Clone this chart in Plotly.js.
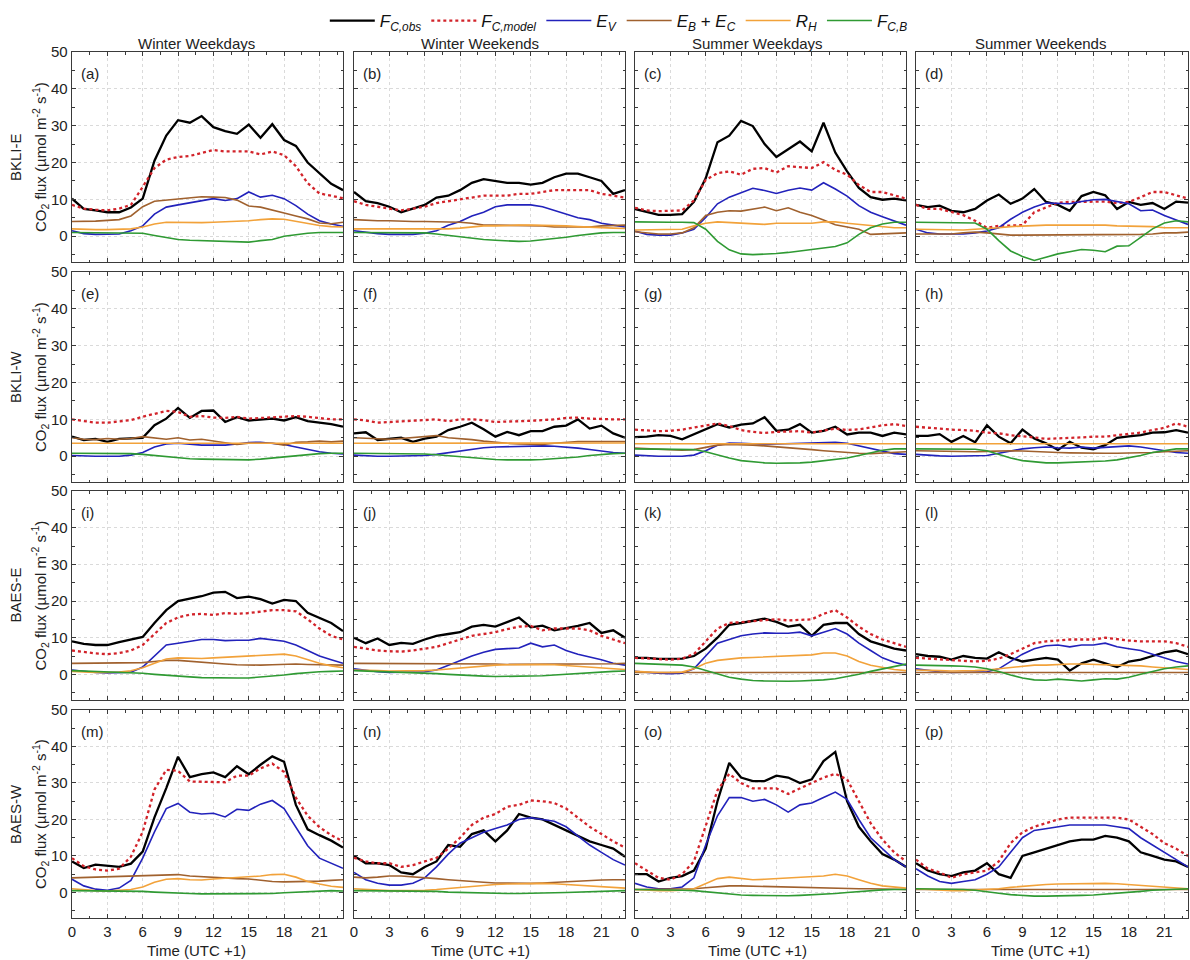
<!DOCTYPE html>
<html>
<head>
<meta charset="utf-8">
<script src="https://cdn.plot.ly/plotly-3.0.1.min.js"></script>
<style>html,body{margin:0;padding:0;background:#fff;}#chart{width:1190px;height:960px;}</style>
</head>
<body>
<div id="chart"></div>
<script>
// ---------------- DATA ----------------
const hours = [0,1,2,3,4,5,6,7,8,9,10,11,12,13,14,15,16,17,18,19,20,21,22,23];
const columnTitles = ['Winter Weekdays','Winter Weekends','Summer Weekdays','Summer Weekends'];
const siteNames = ['BKLI-E','BKLI-W','BAES-E','BAES-W'];
const panelLetters = ['a','b','c','d','e','f','g','h','i','j','k','l','m','n','o','p'];
const xTickVals = [0,3,6,9,12,15,18,21];
const yTickVals = [0,10,20,30,40,50];

// (a) BKLI-E Winter Weekdays
const obs_a = [10.2,7.4,7,6.5,6.5,7.8,10.2,20.5,27.3,31.5,30.8,32.6,29.6,28.5,27.8,30.3,26.7,30.4,26.1,24.5,20,17,14.2,12.5];
const mod_a = [8.5,7.5,7.2,7,7.5,8.5,13.4,18.5,20.8,21.5,21.8,22.7,23.4,23,23,23,22.2,23,22,19,14.4,11.6,11,10.3];
const ev_a  = [1.5,0.7,0.5,0.5,0.6,1.5,2.8,6,7.9,8.5,9.1,9.7,10.2,9.7,10.2,12,10.6,11.1,10.2,8.3,6,4.2,3.3,2.7];
const ebc_a = [4,4,4.1,4.3,4.5,5.5,8,9.5,9.8,10.3,10.6,10.7,10.6,10.5,9.8,8.2,7.9,7.2,6.3,5.5,4.7,3.6,3.4,3.8];
const rh_a  = [2,1.8,1.8,1.8,1.9,2,2.5,3.3,3.8,3.7,3.7,3.7,3.8,3.9,4,4.2,4.5,4.7,4.6,4,3.3,2.9,2.6,2.5];
const fcb_a = [1,1,1,1,1,0.9,0.8,0.2,-0.4,-0.9,-1.1,-1.2,-1.3,-1.3,-1.4,-1.6,-1.2,-0.9,0,0.5,0.8,1,1,1];
// (b) BKLI-E Winter Weekends
const obs_b = [12,9.5,9,8,6.5,7.5,8.5,10.5,11,12.5,14.5,15.5,15,14.5,14.5,14,14.5,16,17,17,16,15,11.5,12.5];
const mod_b = [9.5,8.5,8,7.5,7,7.5,8,9,9.5,10,10.5,11,11,11,11.5,11.5,12,12.5,12.5,12.5,12.5,11.5,11,10.5];
const ev_b  = [1.5,1,0.7,0.5,0.5,0.5,0.8,1.5,3,4,5.5,6.5,8,8.5,8.5,8.5,8,7,6,5,4.5,3.5,3,2.5];
const ebc_b = [4.5,4.3,4.2,4.2,4,4,4,4,4,3.8,3.5,3,3,3,3,2.8,2.8,2.5,2.5,2.5,2.5,2.8,3,3];
const rh_b  = [2,2,2,2,1.9,1.8,1.8,1.9,2,2.2,2.5,2.8,2.8,3,3,3,3,3,2.8,2.6,2.4,2.2,2.2,2.1];
const fcb_b = [1,1,1,1,1,1,0.9,0.6,0.2,-0.3,-0.6,-0.9,-1.1,-1.3,-1.4,-1.3,-1,-0.8,-0.3,0.2,0.6,0.9,1,1];
// (c) BKLI-E Summer Weekdays
const obs_c = [7.4,6.5,5.8,5.8,6,9.3,15.7,25.5,27.3,31.3,29.9,25,21.5,23.6,25.7,23,30.8,22.7,17.6,13.1,10.6,9.9,10.2,9.7];
const mod_c = [7.7,7,6.8,6.8,7,9.7,15.3,17.1,17.6,16.7,18.3,18.5,17.3,19,18.7,18.5,20.1,18,16.7,13.9,12,12,11.1,10.2];
const ev_c  = [1.4,0.5,0.3,0.3,0.9,1.9,5.1,8.8,10.6,11.8,13,12.4,11.6,12.5,13.1,12.5,14.5,12.8,10.9,8.3,6.5,5.3,4.2,3];
const ebc_c = [1.2,0.9,0.6,0.6,0.9,2.3,5.6,6.5,6.9,6.8,7.4,7.9,6.9,7.7,6.5,5.6,4.4,3.1,2.5,1.9,0.5,0.6,0.7,0.9];
const rh_c  = [1.7,1.7,1.7,1.7,1.9,2.8,3.5,3.9,3.7,3.4,3.4,3.2,3.5,3.5,3.5,3.5,3.9,3.9,3.5,3.2,3,2.6,2.3,2.3];
const fcb_c = [3.9,3.8,3.8,3.8,3.8,3.7,1.9,-1.4,-3.7,-4.8,-5,-4.9,-4.7,-4.4,-4.1,-3.6,-3.2,-2.8,-1.8,0.5,2.3,3.3,3.8,3.8];
// (d) BKLI-E Summer Weekends
const obs_d = [8.5,7.9,8.3,6.9,6.5,7.4,9.7,11.3,8.8,10.2,12.8,9.3,8.5,6.9,10.9,12,11.1,7.4,9.3,8.5,9,7.4,9.4,9.1];
const mod_d = [8.5,7.4,7.4,6.5,5.7,4.2,2.3,2.8,2.8,3,6.5,7.9,9.1,9.3,9.3,9.3,9.4,9,9.3,10.6,12,12,11.1,10.2];
const ev_d  = [1.9,0.9,0.6,0.5,0.6,0.9,1.4,2.3,4.6,6.5,7.9,9,9,8.8,9.4,9.9,10,9.3,8.8,6.9,7.1,5.6,4.4,3.2];
const ebc_d = [0.6,0.6,0.7,0.6,0.9,1.1,0.9,0.5,0.3,0.3,0.3,0.3,0.3,0.3,0.3,0.3,0.3,0.3,0.3,0.5,0.6,0.9,0.9,1.1];
const rh_d  = [1.9,1.8,1.7,1.7,1.7,1.9,2,2.3,2.6,2.8,2.8,3,3,3,3.1,3.1,3,2.8,2.8,2.8,2.6,2.3,2.3,2.3];
const fcb_d = [3.8,3.8,3.8,3.8,3.8,3.6,1.9,-1.2,-4,-5.5,-6.6,-5.6,-4.8,-4.2,-3.6,-3.8,-4.2,-2.7,-2.6,-0.3,2,3.6,4.2,3.9];
// (e) BKLI-W Winter Weekdays
const obs_e = [5.3,4.4,4.7,3.9,4.7,4.8,5,8.4,10.2,13.1,10.4,12.3,12.4,9.3,10.6,9.7,10,10.2,9.7,10.6,9.5,9.1,8.7,8];
const mod_e = [10,9.5,9.1,9.1,9.4,9.8,10.7,11.6,12.3,12,10.7,10.9,10.5,10.4,10.7,10.2,10.4,10.7,10.7,10.9,10.7,10.4,10,10];
const ev_e  = [0.2,0,0,0,0,0.3,1,2.5,3.3,3.5,3.2,3,3,3,3.3,3.7,3.8,3.6,3.2,2.5,1.8,1.2,0.8,0.6];
const ebc_e = [5,4.6,4.5,4.8,4.6,4.8,5.3,5,4.6,5,4.4,4.6,4.1,3.7,3.2,3.5,3.5,3.5,3,3.8,3.9,4.1,3.9,4.1];
const rh_e  = [3.5,3.5,3.5,3.5,3.5,3.5,3.5,3.6,3.6,3.6,3.6,3.6,3.6,3.6,3.6,3.6,3.6,3.6,3.6,3.6,3.5,3.5,3.5,3.5];
const fcb_e = [0.8,0.8,0.8,0.8,0.8,0.7,0.5,0.2,-0.2,-0.5,-0.7,-0.8,-0.9,-1,-1,-1,-0.8,-0.5,-0.2,0.2,0.5,0.7,0.8,0.8];
// (f) BKLI-W Winter Weekends
const obs_f = [6.2,6.5,4.4,4.6,5,3.9,4.8,5.3,7.1,8,9.1,7.3,5.3,6.6,5.7,6.8,6.8,8,8.3,10,7.5,8.3,6.2,5];
const mod_f = [10,9.7,9.1,9.3,9.5,9.8,9.8,10,9.5,10,10,9.8,9.3,9.3,9.5,9.6,9.8,10,10.4,10.5,10.2,10,10,10];
const ev_f  = [0.3,0.1,0,0,0,0,0.2,0.5,1,1.5,2,2.3,2.5,2.6,2.7,2.8,2.8,2.7,2.5,2.2,1.8,1.3,1,0.8];
const ebc_f = [5,4.8,4.6,4.6,4.8,5,5.3,5.6,5,4.8,4.5,4.1,3.7,3.5,3.3,3.2,3.2,3.5,3.8,4,4,4,4,4];
const rh_f  = [3.5,3.5,3.5,3.5,3.5,3.5,3.5,3.5,3.5,3.5,3.5,3.5,3.5,3.5,3.5,3.5,3.5,3.5,3.5,3.5,3.5,3.6,3.6,3.6];
const fcb_f = [0.8,0.8,0.8,0.8,0.8,0.7,0.6,0.4,0.1,-0.2,-0.5,-0.7,-0.9,-1,-1.1,-1,-0.9,-0.7,-0.5,-0.2,0.2,0.5,0.7,0.8];
// (g) BKLI-W Summer Weekdays
const obs_g = [5.2,5.3,5.7,5.5,4.6,5.9,7.2,8.7,7.8,8.6,8.9,10.6,6.9,7.2,8.7,6.4,6.9,8,5.9,6.4,6.4,5.5,6.4,5.9];
const mod_g = [7.2,6.9,6.8,6.9,7.2,7.8,8.4,8.9,8.2,7.1,6.6,6.3,6.6,6.8,6.8,6.4,6.9,7.5,7.1,7.3,7.8,8.4,8.7,8.2];
const ev_g  = [0.3,0.1,0,0,0,0.3,1.5,3,3.6,3.5,3.3,3.2,3.3,3.4,3.5,3.4,3.5,3.8,3.5,2.8,2,1.2,0.7,0.5];
const ebc_g = [2.2,2,1.8,1.7,1.6,1.8,2.5,3,3.2,3.2,3,2.8,2.5,2.2,2,1.8,1.5,1.2,1,0.8,0.7,0.8,1,1.2];
const rh_g  = [3.4,3.4,3.4,3.4,3.4,3.5,3.6,3.6,3.6,3.6,3.6,3.6,3.6,3.6,3.6,3.6,3.6,3.6,3.6,3.5,3.5,3.4,3.4,3.4];
const fcb_g = [2,2,2,2,2,1.8,1.2,0.3,-0.5,-1.2,-1.6,-1.8,-1.9,-1.9,-1.8,-1.6,-1.3,-1,-0.5,0.2,1,1.6,2,2];
// (h) BKLI-W Summer Weekends
const obs_h = [5.5,5.5,6,3.9,5.5,3.8,8.4,5.3,3.5,7.2,4.8,3.5,1.7,3.9,2.3,1.9,3,5,5.4,5.7,6.4,6.5,7.1,6.4];
const mod_h = [8,7.7,7.5,7.2,7.1,6.9,6.4,6.2,5.7,5.5,5.1,4.7,4.8,5,5.1,5.3,5.3,5.7,6,6.4,7.1,7.7,8.9,8];
const ev_h  = [0.5,0.2,0.1,0,0,0,0.2,0.8,1.5,2,2.3,2.5,2.3,2.2,2.5,2.2,2.4,2.6,2.8,2.5,2,1.5,1,0.8];
const ebc_h = [1.5,1.4,1.3,1.3,1.2,1.2,1.3,1.5,1.5,1.4,1.2,1,1,0.9,0.8,0.8,0.8,0.8,0.8,0.9,1,1.2,1.3,1.5];
const rh_h  = [3.4,3.4,3.4,3.4,3.4,3.4,3.5,3.5,3.5,3.5,3.5,3.5,3.5,3.5,3.5,3.5,3.5,3.5,3.5,3.5,3.5,3.4,3.4,3.4];
const fcb_h = [2,2,2,2,2,1.9,1.5,0.5,-0.5,-1.2,-1.6,-1.8,-1.8,-1.7,-1.6,-1.5,-1.3,-1,-0.5,0.2,1,1.6,2,2];
// (i) BAES-E Winter Weekdays
const obs_i = [9,8.3,8,8,8.8,9.5,10.2,14,17.5,20,20.7,21.3,22.3,22.5,20.8,21.2,20.5,19.3,20.3,20,16.8,15.5,14,11.8];
const mod_i = [6.5,6,5.7,5.5,5.8,6.5,8,11,14,15.5,16.3,16.5,16.2,16.7,16.5,16.7,17,17.5,17.5,17.2,15,12.5,10.5,9.5];
const ev_i  = [1.2,0.8,0.5,0.4,0.4,0.6,2,5,8,8.5,9,9.5,9.5,9.2,9.3,9.3,9.8,9.5,9,8,6.5,5,4,3];
const ebc_i = [3,3,3,3,3,3,3.2,3.5,3.8,3.8,3.5,3.2,3,2.8,2.6,2.5,2.5,2.6,2.8,2.8,2.7,2.6,2.5,2.5];
const rh_i  = [0.8,0.6,0.5,0.5,0.6,1,1.8,3,4.2,4.5,4.3,4.3,4.5,4.7,4.8,5,5.3,5.5,5.5,5,4,3,2.3,1.8];
const fcb_i = [1,0.9,0.8,0.7,0.6,0.5,0.3,0,-0.3,-0.5,-0.7,-0.9,-1,-1,-1,-1,-0.8,-0.5,-0.2,0.2,0.5,0.7,0.8,0.9];
// (j) BAES-E Winter Weekends
const obs_j = [10,8.5,9.8,8,8.6,8.3,9.5,10.5,11,11.5,13,13.5,13,14.3,15.5,12.8,13.3,12,12.5,13.2,14,11.3,12,10];
const mod_j = [7.5,7,6.5,6.3,6.2,6.5,7,7.5,8.5,9.5,10.5,11,11.5,12.3,13,13.2,12,12.5,12.5,12.5,12,10.5,9.5,8.5];
const ev_j  = [1.5,1,0.7,0.5,0.5,0.5,0.7,1.2,2.5,3.8,5,6,6.8,7,7.2,8.5,7.5,8,6.5,5.5,4.8,4,3,2.5];
const ebc_j = [3,3,3,3,3,3,3,3,3,3,2.9,2.8,2.8,2.7,2.7,2.7,2.7,2.7,2.8,2.8,2.8,2.8,2.9,3];
const rh_j  = [1.2,1,1,0.9,0.9,0.9,1,1.2,1.5,1.8,2,2.3,2.5,2.6,2.7,2.8,2.7,2.6,2.4,2.2,2,1.8,1.5,1.3];
const fcb_j = [1,0.9,0.8,0.7,0.6,0.5,0.4,0.2,0,-0.2,-0.4,-0.5,-0.6,-0.6,-0.6,-0.5,-0.4,-0.2,0,0.3,0.5,0.7,0.8,0.9];
// (k) BAES-E Summer Weekdays
const obs_k = [4.5,4.5,4.2,4.3,4.3,5,7,10,13.5,14,14.5,15.2,14.3,13,13.5,10.5,13.5,14,14,11,9,8,7,6.5];
const mod_k = [4.5,4.3,4.2,4,4.3,5.5,9,12.5,14,14.2,14.5,14.8,15,14.7,14.8,15,16.5,17.5,15.5,13,11,9.5,8.5,7.5];
const ev_k  = [0.8,0.5,0.3,0.2,0.3,1.5,5,8.5,9.5,10.5,11,11.3,11.2,11.2,11.5,10.5,11.5,12.5,11,8.5,6.5,4.5,3.3,2.5];
const ebc_k = [0.5,0.5,0.5,0.5,0.5,0.5,0.5,0.5,0.5,0.5,0.5,0.5,0.5,0.5,0.5,0.5,0.5,0.5,0.5,0.5,0.5,0.5,0.5,0.5];
const rh_k  = [0.8,0.6,0.5,0.5,0.6,1.5,3,3.8,4.2,4.5,4.6,4.7,4.8,4.9,5,5.3,5.8,5.8,5,3.5,2.5,1.8,1.3,1];
const fcb_k = [3,2.9,2.8,2.7,2.5,2,1,0,-0.8,-1.3,-1.7,-1.8,-1.9,-1.9,-1.8,-1.7,-1.5,-1.2,-0.7,0,0.8,1.5,2.2,2.8];
// (l) BAES-E Summer Weekends
const obs_l = [5.5,5,4.8,4,5,4.5,4.3,6,4.5,3.5,4,4.5,4,1,3,4,3,2,3.5,4,5,6,6.5,5.5];
const mod_l = [4.5,4.3,4,3.8,3.5,3.5,3.7,4.3,5.5,7,8.5,9,9.3,9.5,9.5,9.5,10,9.5,9.2,9,9,9,8.5,7.5];
const ev_l  = [1.5,1,0.7,0.5,0.5,0.5,0.7,1.5,3.5,5.5,7,7.8,8,7.5,8,8,8.5,7.5,7,6.5,5.5,4.5,3.5,2.8];
const ebc_l = [0.5,0.5,0.5,0.5,0.5,0.5,0.5,0.5,0.5,0.5,0.5,0.5,0.5,0.5,0.5,0.5,0.5,0.5,0.5,0.5,0.5,0.5,0.5,0.5];
const rh_l  = [1.2,1,1,0.9,0.9,1,1.2,1.5,2,2.3,2.5,2.5,2.7,2.8,2.8,2.7,2.8,2.7,2.5,2.3,2,1.8,1.5,1.3];
const fcb_l = [2.5,2.5,2.4,2.3,2.2,2,1.5,0.8,-0.2,-1,-1.5,-1.6,-1.3,-1.5,-1.8,-1.5,-1.2,-1.3,-0.8,0,0.8,1.5,2,2.3];
// (m) BAES-W Winter Weekdays
const obs_m = [8.5,6.7,7.6,7.4,7,7.9,11.2,20.6,28.6,37.2,31.6,32.4,32.9,31.6,34.6,32.4,35,37.3,35.8,24,17.3,15.7,14.2,12.3];
const mod_m = [9.4,7.2,6.3,6,6.5,9.8,16.6,28.2,33.6,33.3,30.4,30.4,30.4,30.2,32,32,34,35.3,33,26,21,17.9,15.7,14];
const ev_m  = [3.6,1.8,0.9,0.6,1.2,3.3,9.4,16.6,23,24.4,22,21.5,21.7,20.7,22.8,22.5,24.2,25.2,23,17.9,12.8,9.4,8.1,6.6];
const ebc_m = [4,4.1,4.2,4.2,4.2,4.4,4.6,4.7,4.8,4.9,4.5,4.3,4,3.8,3.8,3.7,3.3,3,2.9,2.9,3,3.1,3.3,3.5];
const rh_m  = [1,0.7,0.5,0.4,0.5,0.8,1.5,2.8,3.6,3.8,3.5,3.4,3.7,3.9,4,4.2,4.5,4.9,5,4.2,3,2.3,1.7,1.4];
const fcb_m = [0.5,0.5,0.5,0.4,0.4,0.4,0.3,0.1,-0.1,-0.2,-0.3,-0.4,-0.4,-0.4,-0.4,-0.5,-0.4,-0.3,-0.1,0.1,0.2,0.4,0.5,0.4];
// (n) BAES-W Winter Weekends
const obs_n = [10,8,8,7.5,5.5,5,7,8.5,13,12.5,16,17,14,17,21.5,20.5,20,18.5,17,15.5,14,13,12,9.8];
const mod_n = [9.5,8.5,8,8,7,7.5,8.5,9.5,12,15,18.5,20.5,21.5,23.5,24,25.2,25,24.5,23,20.5,18,16,14,12.3];
const ev_n  = [5.5,3.5,2.5,2,2,2.5,4,7,10.5,13.5,15,16.5,17.5,18.5,20,20.5,20,19.5,18,15.5,13,11,9,7.5];
const ebc_n = [4.2,4,4.2,4.5,4.5,4.3,4,3.8,3.5,3.2,3,2.8,2.6,2.5,2.5,2.5,2.6,2.8,3,3.2,3.2,3.4,3.5,3.5];
const rh_n  = [1,0.8,0.6,0.5,0.5,0.5,0.6,0.8,1.1,1.5,1.8,2,2.2,2.3,2.4,2.5,2.5,2.4,2.2,2,1.8,1.6,1.4,1.2];
const fcb_n = [0.5,0.5,0.5,0.5,0.5,0.5,0.4,0.3,0.1,0,-0.1,-0.2,-0.3,-0.3,-0.3,-0.3,-0.2,-0.1,0,0.1,0.2,0.3,0.4,0.5];
// (o) BAES-W Summer Weekdays
const obs_o = [5,5,3,4,4.5,6,12,25,35.5,31.5,30.5,30.5,32,31.5,30,31,36,38.5,25,18,14,10.5,9,7];
const mod_o = [8,6,4,3.5,5,8.5,18,28,32.5,30,28.5,28.5,28.5,27,28.5,30,31.5,32.5,31,25,19,14.5,11,8.5];
const ev_o  = [2.5,1.5,1,1,1.5,4,13,21,26,26,25,25.5,24,22,24,24.5,26,27.5,25.5,20,15,12,9,7];
const ebc_o = [0.8,0.8,0.8,0.8,0.9,1,1.3,1.6,1.8,1.8,1.7,1.6,1.5,1.5,1.4,1.3,1.2,1.2,1.1,1,1,0.9,0.9,0.8];
const rh_o  = [0.8,0.6,0.5,0.5,0.6,1,2.5,3.8,4.2,3.8,3.5,3.6,3.8,4,4,4.2,4.5,5,4.5,3.5,2.5,1.8,1.5,1.2];
const fcb_o = [0.8,0.8,0.8,0.7,0.6,0.5,0.2,-0.2,-0.5,-0.7,-0.8,-0.9,-0.9,-0.9,-0.8,-0.7,-0.5,-0.3,0,0.3,0.5,0.7,0.8,0.8];
// (p) BAES-W Summer Weekends
const obs_p = [8,6,5,4.5,5.5,6,8,5,4,10,11,12,13,14,14.5,14.5,15.5,15,14,11,10,9,8.5,7];
const mod_p = [9,6.5,5.5,4,5,5.5,6,8.5,13.5,16.5,18,19,20,20.5,20.5,20.5,20.5,20.5,20,18,16,13.5,12,10];
const ev_p  = [6.5,4.5,3,2.5,3,3.5,5,7,11,15,17,17.5,18,18.5,18.5,18.5,18.5,18,17.5,15,13,11,9,7];
const ebc_p = [0.8,0.8,0.8,0.8,0.8,0.8,0.8,0.8,0.8,0.8,0.8,0.8,0.8,0.8,0.8,0.8,0.8,0.8,0.8,0.8,0.8,0.8,0.8,0.8];
const rh_p  = [1,0.8,0.6,0.5,0.5,0.6,0.8,1,1.4,1.7,2,2.2,2.3,2.4,2.4,2.5,2.5,2.4,2.2,2,1.7,1.5,1.2,1];
const fcb_p = [1,1,1,0.9,0.8,0.6,0.3,-0.2,-0.6,-0.9,-1,-1,-1,-0.9,-0.8,-0.7,-0.5,-0.3,0,0.3,0.6,0.8,0.9,1];

// ---------------- BUILD ----------------
const panelData = [
  [obs_a,mod_a,ev_a,ebc_a,rh_a,fcb_a],[obs_b,mod_b,ev_b,ebc_b,rh_b,fcb_b],
  [obs_c,mod_c,ev_c,ebc_c,rh_c,fcb_c],[obs_d,mod_d,ev_d,ebc_d,rh_d,fcb_d],
  [obs_e,mod_e,ev_e,ebc_e,rh_e,fcb_e],[obs_f,mod_f,ev_f,ebc_f,rh_f,fcb_f],
  [obs_g,mod_g,ev_g,ebc_g,rh_g,fcb_g],[obs_h,mod_h,ev_h,ebc_h,rh_h,fcb_h],
  [obs_i,mod_i,ev_i,ebc_i,rh_i,fcb_i],[obs_j,mod_j,ev_j,ebc_j,rh_j,fcb_j],
  [obs_k,mod_k,ev_k,ebc_k,rh_k,fcb_k],[obs_l,mod_l,ev_l,ebc_l,rh_l,fcb_l],
  [obs_m,mod_m,ev_m,ebc_m,rh_m,fcb_m],[obs_n,mod_n,ev_n,ebc_n,rh_n,fcb_n],
  [obs_o,mod_o,ev_o,ebc_o,rh_o,fcb_o],[obs_p,mod_p,ev_p,ebc_p,rh_p,fcb_p]
];

const seriesStyle = [
  {name:'<i>F<sub>C,obs</sub></i>', line:{color:'#000000', width:2.3}},
  {name:'<i>F<sub>C,model</sub></i>', line:{color:'#d2232a', width:2.3, dash:'dot'}},
  {name:'<i>E<sub>V</sub></i>', line:{color:'#2222bb', width:1.6}},
  {name:'<i>E<sub>B</sub></i> + <i>E<sub>C</sub></i>', line:{color:'#a0612e', width:1.6}},
  {name:'<i>R<sub>H</sub></i>', line:{color:'#f2a23a', width:1.6}},
  {name:'<i>F<sub>C,B</sub></i>', line:{color:'#2f9a33', width:1.6}}
];

const W = 1190, H = 960;
const colPx = [[72,343],[354,625],[635,906],[916,1188]];
const rowPx = [[52,262],[272,482],[491,700],[710,918]];
const titleX = [196,480,757,1040];
const FONT = 'Liberation Sans, Arial, Helvetica, sans-serif';
const TXT = 15;

const traces = [];
const layout = {
  width: W, height: H,
  margin: {l:0, r:0, t:0, b:0},
  paper_bgcolor: '#ffffff', plot_bgcolor: '#ffffff',
  font: {family: FONT, size: TXT, color: '#222'},
  showlegend: true,
  legend: {orientation:'h', x: 0.52, xanchor:'center', y: (H-3)/H, yanchor:'top',
           font:{family: FONT, size:17, color:'#111'}, itemwidth: 45, tracegroupgap: 0,
           bgcolor:'rgba(0,0,0,0)'},
  annotations: []
};

for (let r = 0; r < 4; r++) {
  for (let c = 0; c < 4; c++) {
    const k = r*4 + c;
    const id = k === 0 ? '' : String(k+1);
    const xa = 'xaxis' + id, ya = 'yaxis' + id;
    const xdom = [colPx[c][0]/W, colPx[c][1]/W];
    const ydom = [(H-rowPx[r][1])/H, (H-rowPx[r][0])/H];
    const common = {showline:true, linecolor:'#3a3a3a', linewidth:1.4, mirror:'allticks',
      ticks:'inside', ticklen:4, tickwidth:1, tickcolor:'#3a3a3a',
      showgrid:true, gridcolor:'#dadada', griddash:'dot', gridwidth:1, zeroline:false,
      tickfont:{family:FONT, size:TXT, color:'#222'}, fixedrange:true};
    layout[xa] = Object.assign({}, common, {
      domain: xdom, anchor: 'y'+id, range:[0,23], tickmode:'array', tickvals: xTickVals,
      showticklabels: r === 3,
      minor:{tickmode:'linear', tick0:0, dtick:1.5, ticks:'inside', ticklen:2.5, tickcolor:'#3a3a3a', showgrid:false}
    });
    layout[ya] = Object.assign({}, common, {
      domain: ydom, anchor: 'x'+id, range:[-7,50], tickmode:'array', tickvals: yTickVals,
      showticklabels: c === 0,
      minor:{tickmode:'linear', tick0:0, dtick:5, ticks:'inside', ticklen:2.5, tickcolor:'#3a3a3a', showgrid:false}
    });
    const data = panelData[k];
    for (let s = 0; s < 6; s++) {
      traces.push({
        type:'scatter', mode:'lines', x: hours, y: data[s],
        xaxis:'x'+id, yaxis:'y'+id,
        name: seriesStyle[s].name, line: seriesStyle[s].line,
        legendgroup: 's'+s, showlegend: k === 0, hoverinfo:'skip'
      });
    }
    layout.annotations.push({
      xref: 'x'+id+' domain', yref: 'y'+id+' domain', x: 0.025, y: 0.898,
      xanchor:'left', yanchor:'middle', showarrow:false,
      text: '(' + panelLetters[k] + ')', font:{family:FONT, size:TXT, color:'#222'}
    });
  }
}

for (let c = 0; c < 4; c++) {
  layout.annotations.push({xref:'paper', yref:'paper', x: titleX[c]/W, y:(H-44)/H,
    xanchor:'center', yanchor:'middle', showarrow:false, text: columnTitles[c],
    font:{family:FONT, size:TXT, color:'#222'}});
  layout.annotations.push({xref:'paper', yref:'paper', x: titleX[c]/W, y:(H-950)/H,
    xanchor:'center', yanchor:'middle', showarrow:false, text: 'Time (UTC +1)',
    font:{family:FONT, size:TXT, color:'#222'}});
}
for (let r = 0; r < 4; r++) {
  const yc = (H - (rowPx[r][0] + rowPx[r][1]) / 2) / H;
  layout.annotations.push({xref:'paper', yref:'paper', x: 15/W, y: yc,
    xanchor:'center', yanchor:'middle', showarrow:false, textangle:-90, text: siteNames[r],
    font:{family:FONT, size:TXT, color:'#222'}});
  layout.annotations.push({xref:'paper', yref:'paper', x: 40/W, y: yc,
    xanchor:'center', yanchor:'middle', showarrow:false, textangle:-90,
    text: 'CO<sub>2</sub> flux (µmol m<sup>-2</sup> s<sup>-1</sup>)',
    font:{family:FONT, size:TXT, color:'#222'}});
}

Plotly.newPlot('chart', traces, layout, {displayModeBar:false, staticPlot:true});
</script>
</body>
</html>
